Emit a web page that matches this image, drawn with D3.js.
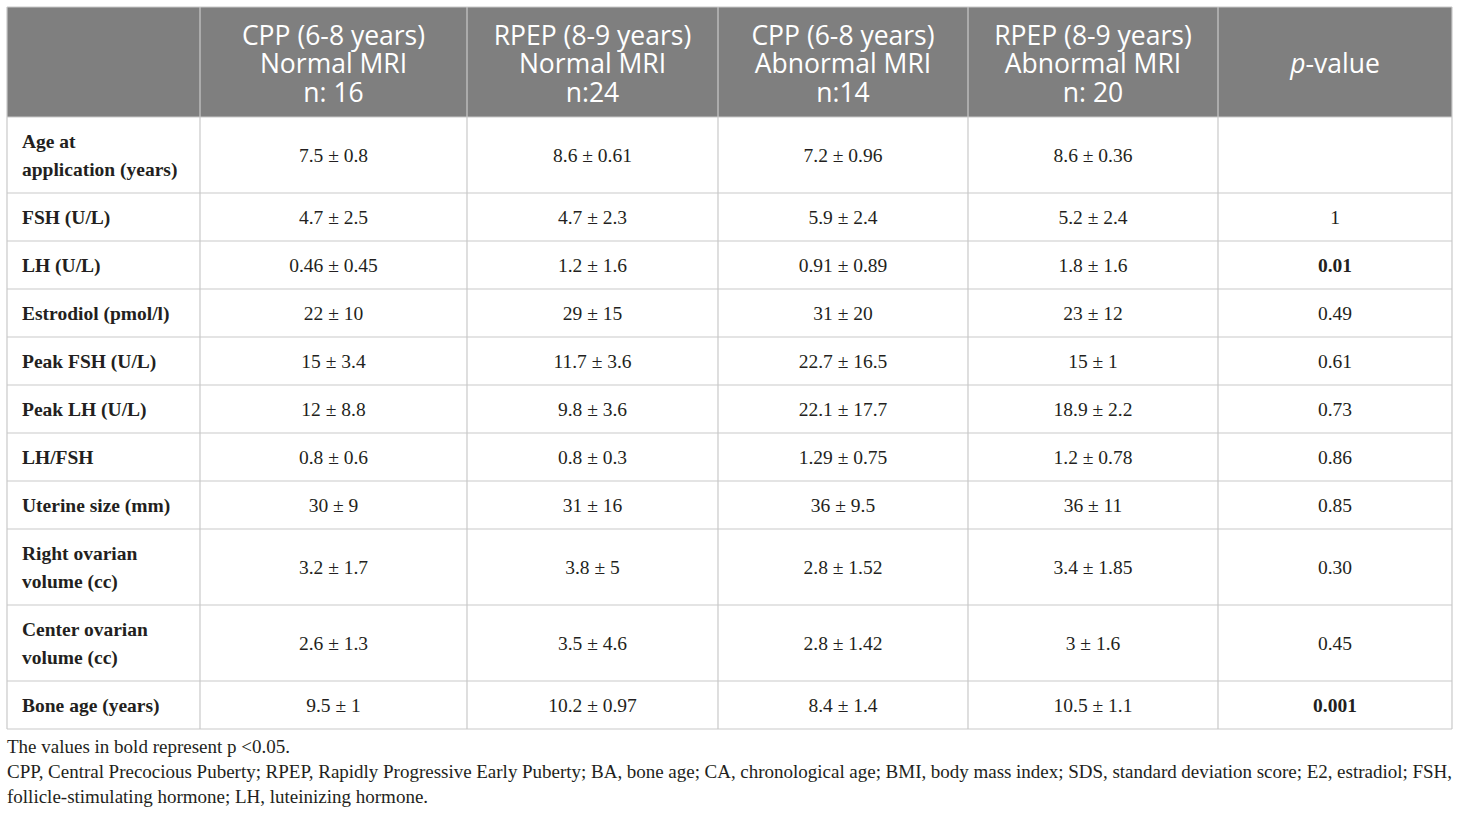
<!DOCTYPE html>
<html><head><meta charset="utf-8">
<script src="https://cdn.jsdelivr.net/npm/d3@7"></script>
<style>
html,body{margin:0;padding:0;background:#fff;}
</style></head>
<body>
<svg id="chart" width="1460" height="818"></svg>
<script>
// ---- data ----
const headers = [
  [""],
  ["CPP (6-8 years)", "Normal MRI", "n: 16"],
  ["RPEP (8-9 years)", "Normal MRI", "n:24"],
  ["CPP (6-8 years)", "Abnormal MRI", "n:14"],
  ["RPEP (8-9 years)", "Abnormal MRI", "n: 20"],
  ["p-value"]
];
const rowLabels = [
  ["Age at", "application (years)"],
  ["FSH (U/L)"],
  ["LH (U/L)"],
  ["Estrodiol (pmol/l)"],
  ["Peak FSH (U/L)"],
  ["Peak LH (U/L)"],
  ["LH/FSH"],
  ["Uterine size (mm)"],
  ["Right ovarian", "volume (cc)"],
  ["Center ovarian", "volume (cc)"],
  ["Bone age (years)"]
];
const cppNormal   = ["7.5 ± 0.8","4.7 ± 2.5","0.46 ± 0.45","22 ± 10","15 ± 3.4","12 ± 8.8","0.8 ± 0.6","30 ± 9","3.2 ± 1.7","2.6 ± 1.3","9.5 ± 1"];
const rpepNormal  = ["8.6 ± 0.61","4.7 ± 2.3","1.2 ± 1.6","29 ± 15","11.7 ± 3.6","9.8 ± 3.6","0.8 ± 0.3","31 ± 16","3.8 ± 5","3.5 ± 4.6","10.2 ± 0.97"];
const cppAbnormal = ["7.2 ± 0.96","5.9 ± 2.4","0.91 ± 0.89","31 ± 20","22.7 ± 16.5","22.1 ± 17.7","1.29 ± 0.75","36 ± 9.5","2.8 ± 1.52","2.8 ± 1.42","8.4 ± 1.4"];
const rpepAbnormal= ["8.6 ± 0.36","5.2 ± 2.4","1.8 ± 1.6","23 ± 12","15 ± 1","18.9 ± 2.2","1.2 ± 0.78","36 ± 11","3.4 ± 1.85","3 ± 1.6","10.5 ± 1.1"];
const pValues     = ["","1","0.01","0.49","0.61","0.73","0.86","0.85","0.30","0.45","0.001"];
const boldP       = [false,false,true,false,false,false,false,false,false,false,true];
const footnotes = [
  "The values in bold represent p <0.05.",
  "CPP, Central Precocious Puberty; RPEP, Rapidly Progressive Early Puberty; BA, bone age; CA, chronological age; BMI, body mass index; SDS, standard deviation score; E2, estradiol; FSH,",
  "follicle-stimulating hormone; LH, luteinizing hormone."
];

// ---- layout ----
const colWidths = [193, 267, 251, 250, 250, 234];
const tLeft = 7, tTop = 7;
const headerH = 110, row1 = 48, row2 = 76;
const gridColor = "#c9c9c9";
const headFont = "'Open Sans', 'Noto Sans', sans-serif";
const bodyFont = "'Liberation Serif', 'DejaVu Serif', serif";
const headSize = 26.5, bodySize = 19.5, fnSize = 19;

const colEdges = [tLeft];
colWidths.forEach(w => colEdges.push(colEdges[colEdges.length-1] + w));
const rowHeights = rowLabels.map(l => l.length > 1 ? row2 : row1);
const rowEdges = [tTop + headerH];
rowHeights.forEach(h => rowEdges.push(rowEdges[rowEdges.length-1] + h));
const tableRight = colEdges[colEdges.length-1];
const tableBottom = rowEdges[rowEdges.length-1];

const xCenter = d3.scaleOrdinal().domain(d3.range(colWidths.length))
  .range(colWidths.map((w,i) => colEdges[i] + w/2));
const yRowMid = d3.scaleOrdinal().domain(d3.range(rowLabels.length))
  .range(rowHeights.map((h,i) => rowEdges[i] + h/2));

const svg = d3.select("#chart");

// header background
svg.append("rect").attr("x", tLeft).attr("y", tTop)
  .attr("width", tableRight-tLeft).attr("height", headerH).attr("fill", "#7f7f7f");

// header text: one text element per cell, lines as tspans
const headG = svg.append("g");
headers.forEach((lines, c) => {
  if (lines.length === 1 && lines[0] === "") return;
  const lh = 28.5;
  const cy = tTop + headerH/2 + 1;
  const t = headG.append("text")
    .attr("text-anchor", "middle").attr("dominant-baseline", "central")
    .attr("font-family", headFont).attr("font-size", headSize).attr("fill", "#fff");
  lines.forEach((line, k) => {
    const y = cy + (k - (lines.length-1)/2) * lh;
    if (line === "p-value") {
      t.append("tspan").attr("x", xCenter(c)).attr("y", y).attr("font-style", "italic").text("p");
      t.append("tspan").text("-value");
    } else {
      t.append("tspan").attr("x", xCenter(c)).attr("y", y).text(line);
    }
  });
});

// body rows
const bodyG = svg.append("g");
const cols = [cppNormal, rpepNormal, cppAbnormal, rpepAbnormal, pValues];
rowLabels.forEach((lines, r) => {
  const lh = 28;
  const t = bodyG.append("text")
    .attr("dominant-baseline", "central")
    .attr("font-family", bodyFont).attr("font-weight", "bold")
    .attr("font-size", bodySize).attr("fill", "#231f20");
  lines.forEach((line, k) => {
    t.append("tspan").attr("x", tLeft + 15)
      .attr("y", yRowMid(r) + (k - (lines.length-1)/2) * lh).text(line);
  });
  cols.forEach((arr, ci) => {
    const c = ci + 1;
    if (arr[r] === "") return;
    bodyG.append("text")
      .attr("x", xCenter(c)).attr("y", yRowMid(r))
      .attr("text-anchor", "middle").attr("dominant-baseline", "central")
      .attr("font-family", bodyFont).attr("font-size", bodySize)
      .attr("font-weight", (c === 5 && boldP[r]) ? "bold" : "normal")
      .attr("fill", "#231f20").text(arr[r]);
  });
});

// grid lines
const gridG = svg.append("g").attr("stroke", gridColor).attr("stroke-width", 1.2).attr("fill", "none");
[tTop].concat(rowEdges).forEach(y => {
  gridG.append("line").attr("x1", tLeft).attr("x2", tableRight).attr("y1", y).attr("y2", y);
});
colEdges.forEach(x => {
  gridG.append("line").attr("x1", x).attr("x2", x).attr("y1", tTop).attr("y2", tableBottom);
});

// footnotes
const fnG = svg.append("g").attr("font-family", bodyFont).attr("font-size", fnSize).attr("fill", "#231f20");
const fnY = [tableBottom + 17, tableBottom + 42, tableBottom + 67];
footnotes.forEach((txt, i) => {
  if (i === 1) {
    const words = txt.split(" ");
    const nodes = words.map(w => fnG.append("text").attr("y", fnY[i])
      .attr("dominant-baseline", "central").text(w));
    const widths = nodes.map(n => n.node().getComputedTextLength());
    const total = d3.sum(widths);
    const gap = (tableRight - tLeft - total) / (words.length - 1);
    let x = tLeft;
    nodes.forEach((n, k) => { n.attr("x", x); x += widths[k] + gap; });
  } else {
    fnG.append("text").attr("x", tLeft).attr("y", fnY[i])
      .attr("dominant-baseline", "central").text(txt);
  }
});
</script>
</body></html>
